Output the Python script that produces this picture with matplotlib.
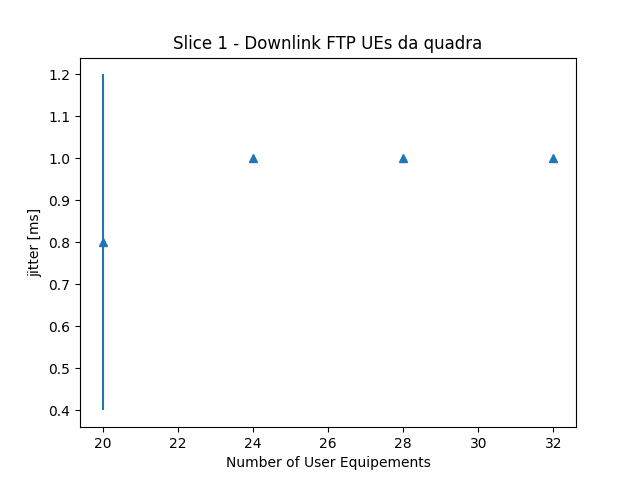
import matplotlib.pyplot as plt

ues = [20, 24, 28, 32]
jitter = [0.8, 1.0, 1.0, 1.0]
jitter_err = [0.4, 0.0, 0.0, 0.0]

fig, ax = plt.subplots(figsize=(6.4, 4.8), dpi=100)
ax.errorbar(ues, jitter, yerr=jitter_err, fmt='^')
ax.set_title("Slice 1 - Downlink FTP UEs da quadra")
ax.set_xlabel("Number of User Equipements")
ax.set_ylabel("jitter [ms]")
fig.savefig("out.png")
